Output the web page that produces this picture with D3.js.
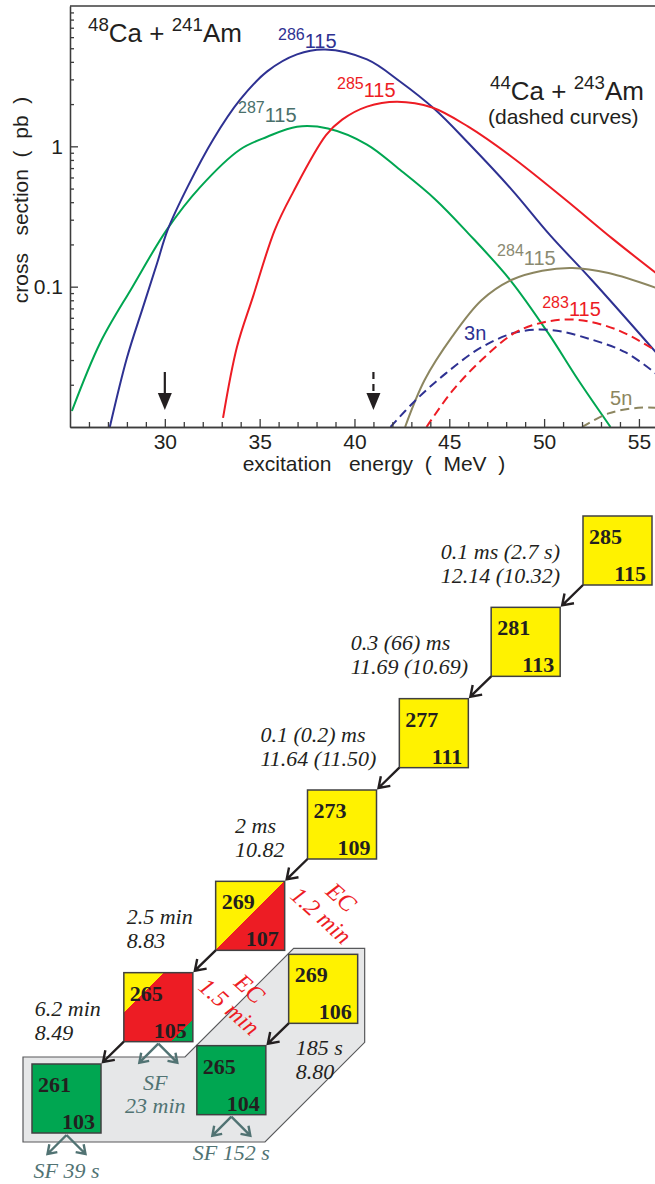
<!DOCTYPE html>
<html>
<head>
<meta charset="utf-8">
<script src="https://cdn.jsdelivr.net/npm/d3@7"></script>
<style>
  body { margin: 0; background: #fff; }
  svg text { white-space: pre; }
</style>
</head>
<body>
<div id="chart"></div>
<script>
// ---- excitation functions (energy in MeV, cross section in pb) ----
var xTicks = [30, 35, 40, 45, 50, 55];
var yTicks = [0.1, 1];

var e286 = [27.1, 28.0, 28.85, 29.6, 30.15, 31.2, 32.55, 33.97, 35.4, 36.97, 38.45, 40.66, 42.4, 44.25, 45.99, 48.3, 50.3, 52.5, 55.9];
var s286 = [0.01, 0.031, 0.0715, 0.148, 0.254, 0.514, 1.12, 2.15, 3.42, 4.52, 4.9, 4.16, 2.9, 1.83, 1.06, 0.49, 0.234, 0.112, 0.034];

var e287 = [25.1, 26.6, 28.3, 30.1, 31.85, 33.97, 35.4, 36.97, 38.6, 40.66, 42.4, 44.25, 46.0, 48.2, 50.2, 51.8, 53.5];
var s287 = [0.013, 0.04, 0.1, 0.254, 0.51, 0.95, 1.17, 1.38, 1.34, 1.03, 0.68, 0.42, 0.24, 0.112, 0.047, 0.0216, 0.01];

var e285 = [33.07, 33.8, 34.65, 35.8, 36.76, 38.5, 39.35, 40.66, 42.25, 44.1, 46.0, 48.3, 51.1, 53.6, 55.9];
var s285 = [0.0116, 0.037, 0.085, 0.254, 0.47, 1.2, 1.55, 1.92, 2.08, 1.89, 1.38, 0.84, 0.42, 0.22, 0.125];

var e284 = [42.67, 43.7, 45.15, 46.7, 48.3, 49.9, 51.5, 53.4, 55.9];
var s284 = [0.01, 0.0216, 0.044, 0.08, 0.112, 0.13, 0.136, 0.125, 0.098];

// 44Ca + 243Am (dashed)
var e3n = [41.9, 43.2, 44.8, 46.7, 48.6, 50.4, 52.5, 54.3, 55.9];
var s3n = [0.01, 0.0154, 0.024, 0.037, 0.0475, 0.049, 0.042, 0.034, 0.024];

var e283 = [43.8, 45.15, 46.7, 48.47, 50.05, 51.8, 53.9, 55.9];
var s283 = [0.01, 0.018, 0.03, 0.047, 0.056, 0.058, 0.049, 0.035];

var e5n = [52.0, 53.4, 54.96, 55.9];
var s5n = [0.01, 0.0125, 0.0137, 0.0137];

var beamArrows = [30, 41];

// ---- decay chain ----
var massNumbers = [285, 281, 277, 273, 269, 265, 261, 269, 265];
var protonNumbers = [115, 113, 111, 109, 107, 105, 103, 106, 104];
var alphaShare = [1, 1, 1, 1, 0.5, 0.29, 0, 1, 0];
var sfShare = [0, 0, 0, 0, 0, 0.16, 1, 0, 1];
var alphaHalfLives = ["0.1 ms (2.7 s)", "0.3 (66) ms", "0.1 (0.2) ms", "2 ms", "2.5 min", "6.2 min", "185 s"];
var alphaEnergies = ["12.14 (10.32)", "11.69 (10.69)", "11.64 (11.50)", "10.82", "8.83", "8.49", "8.80"];
var ecHalfLives = ["1.2 min", "1.5 min"];
var sfHalfLives = ["23 min", "39 s", "152 s"];

var W = 655, H = 1184;
var sans = "'Liberation Sans', Arial, sans-serif";
var serif = "'Liberation Serif', 'Times New Roman', serif";
var ink = "#231f20";

var svg = d3.select("#chart").append("svg")
    .attr("width", W)
    .attr("height", H);

// ================= top plot =================
var x = d3.scaleLinear().domain([25, 55.9]).range([70, 656]);
var y = d3.scaleLog().domain([0.01, 10]).range([427, 6]);

svg.append("clipPath").attr("id", "plotclip")
  .append("rect").attr("x", 70).attr("y", 6).attr("width", 586).attr("height", 421);

var series = [
  { e: e287, s: s287, color: "#00a651", dash: null },
  { e: e286, s: s286, color: "#2e3192", dash: null },
  { e: e285, s: s285, color: "#ed1c24", dash: null },
  { e: e284, s: s284, color: "#8c8660", dash: null },
  { e: e3n, s: s3n, color: "#2e3192", dash: "9,5" },
  { e: e283, s: s283, color: "#ed1c24", dash: "9,5" },
  { e: e5n, s: s5n, color: "#8c8660", dash: "9,5" }
];

var line = d3.line()
  .x(function (d) { return x(d[0]); })
  .y(function (d) { return y(d[1]); })
  .curve(d3.curveCatmullRom.alpha(0.5));

svg.append("g").attr("clip-path", "url(#plotclip)")
  .selectAll("path")
  .data(series)
  .enter()
  .append("path")
    .attr("d", function (d) { return line(d3.zip(d.e, d.s)); })
    .attr("fill", "none")
    .attr("stroke", function (d) { return d.color; })
    .attr("stroke-width", 2)
    .attr("stroke-dasharray", function (d) { return d.dash; });

// axes, ticks pointing inward
function styleAxis(g) {
  g.selectAll("path, line").attr("stroke", "#3c3c3c").attr("stroke-width", 1.3);
  g.selectAll("text").attr("fill", ink).style("font-family", sans).style("font-size", "21px");
}

var xMinor = d3.range(26, 56).filter(function (v) { return v % 5 !== 0; });
svg.append("g").attr("transform", "translate(0,427)")
  .call(d3.axisBottom(x).tickValues(xMinor).tickSize(-5).tickSizeOuter(0).tickFormat(""))
  .call(styleAxis);
svg.append("g").attr("transform", "translate(0,427)")
  .call(d3.axisBottom(x).tickValues(xTicks).tickSize(-8).tickSizeOuter(0).tickPadding(7).tickFormat(d3.format("d")))
  .call(styleAxis);

var yMinor = [];
[0.01, 0.1, 1].forEach(function (dec) {
  for (var k = 2; k <= 9; k++) yMinor.push(dec * k);
});
svg.append("g").attr("transform", "translate(70,0)")
  .call(d3.axisLeft(y).tickValues(yMinor).tickSize(-4).tickSizeOuter(0).tickFormat(""))
  .call(styleAxis);
svg.append("g").attr("transform", "translate(70,0)")
  .call(d3.axisLeft(y).tickValues(yTicks).tickSize(-8).tickSizeOuter(0).tickPadding(7).tickFormat(function (d) { return d; }))
  .call(styleAxis);

svg.append("line")
  .attr("x1", 70).attr("x2", 656).attr("y1", 6).attr("y2", 6)
  .attr("stroke", "#3c3c3c").attr("stroke-width", 1.3);

svg.append("text")
  .attr("x", 374).attr("y", 471)
  .attr("text-anchor", "middle")
  .style("font-family", sans).style("font-size", "21px").attr("fill", ink)
  .text("excitation   energy  (  MeV  )");

svg.append("text")
  .attr("transform", "translate(28,200) rotate(-90)")
  .attr("text-anchor", "middle")
  .style("font-family", sans).style("font-size", "21px").attr("fill", ink)
  .text("cross   section  (  pb  )");

// arrows marking beam energies
beamArrows.forEach(function (e, i) {
  var cx = x(e);
  svg.append("line")
    .attr("x1", cx).attr("x2", cx).attr("y1", 372).attr("y2", 396)
    .attr("stroke", ink).attr("stroke-width", 2.2)
    .attr("stroke-dasharray", i === 1 ? "7,5" : null);
  svg.append("path")
    .attr("d", "M" + (cx - 7) + ",393 L" + (cx + 7) + ",393 L" + cx + ",410 Z")
    .attr("fill", ink);
});

// superscripted labels
function isotopeText(g, px, py, parts, size, ratio, color) {
  var t = g.append("text").attr("x", px).attr("y", py)
    .style("font-family", sans).attr("fill", color);
  var up = false;
  parts.forEach(function (p, k) {
    var sup = k % 2 === 0;
    t.append("tspan")
      .attr("dy", sup ? (up ? 0 : -size * 0.42) : (up ? size * 0.42 : 0))
      .style("font-size", (sup ? size * ratio : size) + "px")
      .text(p);
    up = sup;
  });
  return t;
}

var curveLabels = [
  { e: 35.97, s: 4.99, parts: ["286", "115"], color: "#2e3192" },
  { e: 33.86, s: 1.5, parts: ["287", "115"], color: "#4a706b" },
  { e: 39.08, s: 2.23, parts: ["285", "115"], color: "#ed1c24" },
  { e: 47.52, s: 0.143, parts: ["284", "115"], color: "#8a8a72" },
  { e: 49.9, s: 0.0618, parts: ["283", "115"], color: "#ed1c24" }
];
curveLabels.forEach(function (d) {
  isotopeText(svg, x(d.e), y(d.s), d.parts, 20, 0.8, d.color);
});

svg.append("text").attr("x", x(45.78)).attr("y", y(0.0416))
  .style("font-family", sans).style("font-size", "20px").attr("fill", "#2e3192").text("3n");
svg.append("text").attr("x", x(53.48)).attr("y", y(0.0143))
  .style("font-family", sans).style("font-size", "20px").attr("fill", "#8c8660").text("5n");

isotopeText(svg, 88, 42, ["48", "Ca + ", "241", "Am"], 26, 0.72, ink);
isotopeText(svg, 490, 100, ["44", "Ca + ", "243", "Am"], 26, 0.72, ink);
svg.append("text").attr("x", 488).attr("y", 124)
  .style("font-family", sans).style("font-size", "21px").attr("fill", ink)
  .text("(dashed curves)");

// ================= decay chain =================
var S = 69;
var sx = d3.scaleLinear().domain([0, 6]).range([583, 32]);
var sy = d3.scaleLinear().domain([0, 6]).range([516, 1064]);
var sb = d3.scaleLinear().domain([0, 1]).range([0, 73]);

var nuclides = massNumbers.map(function (a, i) {
  var z = protonNumbers[i];
  var k = Math.floor((115 - z) / 2), b = (115 - z) % 2;
  return { A: a, Z: z, i: i, branch: b, x: sx(k) + sb(b), y: sy(k) + sb(b),
           alpha: alphaShare[i], sf: sfShare[i] };
});
function find(a, z) {
  return nuclides.filter(function (n) { return n.A === a && n.Z === z; })[0];
}

// grey background of the EC branch
var n261 = find(261, 103), n269b = find(269, 106);
var ax = n261.x - 9, ay = n261.y - 7, cx0 = n269b.x + 5, cy0 = n269b.y - 6;
var dx = n269b.x + S + 7, ey = n269b.y + S + 19, gy = n261.y + S + 9;
var region = [[ax, ay], [cx0 - (ay - cy0), ay], [cx0, cy0], [dx, cy0], [dx, ey], [dx - (gy - ey), gy], [ax, gy]];
svg.append("path")
  .attr("d", d3.line()(region) + "Z")
  .attr("fill", "#e6e7e8").attr("stroke", "#58595b").attr("stroke-width", 1.2);

var defs = svg.append("defs");
var colAlpha = "#fff200", colEC = "#ed1c24", colSF = "#00a651";

nuclides.forEach(function (n) {
  var fill;
  if (n.alpha === 1) fill = colAlpha;
  else if (n.sf === 1) fill = colSF;
  else {
    var gid = "split" + n.i;
    var gr = defs.append("linearGradient").attr("id", gid)
      .attr("x1", 0).attr("y1", 0).attr("x2", 1).attr("y2", 1);
    var stops = [[0, colAlpha], [n.alpha, colAlpha], [n.alpha, colEC], [1 - n.sf, colEC], [1 - n.sf, colSF], [1, colSF]];
    stops.forEach(function (s) {
      gr.append("stop").attr("offset", s[0]).attr("stop-color", s[1]);
    });
    fill = "url(#" + gid + ")";
  }
  var g = svg.append("g").attr("transform", "translate(" + n.x + "," + n.y + ")");
  g.append("rect").attr("width", S).attr("height", S)
    .attr("fill", fill).attr("stroke", "#404041").attr("stroke-width", 1.5);
  g.append("text").attr("x", 6).attr("y", 28)
    .style("font-family", serif).style("font-size", "22px").style("font-weight", "bold")
    .attr("fill", ink).text(n.A);
  g.append("text").attr("x", 63).attr("y", 65).attr("text-anchor", "end")
    .style("font-family", serif).style("font-size", "22px").style("font-weight", "bold")
    .attr("fill", ink).text(n.Z);
});

function arrow(x1, y1, x2, y2, len) {
  var a = Math.atan2(y2 - y1, x2 - x1), w = 0.6;
  var p1 = [x2 - len * Math.cos(a - w), y2 - len * Math.sin(a - w)];
  var p2 = [x2 - len * Math.cos(a + w), y2 - len * Math.sin(a + w)];
  return "M" + x1 + "," + y1 + "L" + x2 + "," + y2 +
         "M" + p1 + "L" + x2 + "," + y2 + "L" + p2;
}

// alpha decays
var ai = 0;
nuclides.forEach(function (n) {
  var d = find(n.A - 4, n.Z - 2);
  if (!d) return;
  svg.append("path")
    .attr("d", arrow(n.x, n.y + S, d.x + S + 2, d.y - 2, 12))
    .attr("fill", "none").attr("stroke", ink).attr("stroke-width", 2.4);
  var lab = svg.append("g")
    .style("font-family", serif).style("font-size", "22px").style("font-style", "italic")
    .attr("fill", ink);
  var t1 = lab.append("text").text(alphaHalfLives[ai]);
  var t2 = lab.append("text").text(alphaEnergies[ai]);
  var left, base;
  if (n.branch) {
    left = n.x + 7; base = n.y + 101;
  } else {
    var wmax = Math.max(t1.node().getComputedTextLength(), t2.node().getComputedTextLength());
    left = n.x - 23 - wmax; base = n.y + 43;
  }
  t1.attr("x", left).attr("y", base);
  t2.attr("x", left).attr("y", base + 24);
  ai++;
});

// electron capture
var ei = 0;
nuclides.forEach(function (n) {
  if (!find(n.A, n.Z - 1)) return;
  var g = svg.append("g")
    .attr("transform", "translate(" + (n.x + 100) + "," + (n.y + 40) + ") rotate(42)")
    .style("font-family", serif).style("font-size", "24px").style("font-style", "italic")
    .attr("fill", colEC).attr("text-anchor", "middle");
  g.append("text").attr("x", 3).attr("y", -27).text("EC");
  g.append("text").attr("x", 0).attr("y", 0).text(ecHalfLives[ei]);
  ei++;
});

// spontaneous fission
var si = 0, sfCol = "#517373";
nuclides.forEach(function (n) {
  if (!n.sf) return;
  var cx = n.x + S / 2, top = n.y + S + 2;
  svg.append("path").attr("d", arrow(cx, top, cx - 19, top + 19, 10))
    .attr("fill", "none").attr("stroke", sfCol).attr("stroke-width", 2.4);
  svg.append("path").attr("d", arrow(cx, top, cx + 19, top + 19, 10))
    .attr("fill", "none").attr("stroke", sfCol).attr("stroke-width", 2.4);
  var lab = svg.append("g")
    .style("font-family", serif).style("font-size", "22px").style("font-style", "italic")
    .attr("fill", sfCol).attr("text-anchor", "middle");
  if (n.sf < 1) {
    lab.append("text").attr("x", cx - 3).attr("y", n.y + S + 48).text("SF");
    lab.append("text").attr("x", cx - 3).attr("y", n.y + S + 71).text(sfHalfLives[si]);
  } else {
    lab.append("text").attr("x", cx).attr("y", n.y + S + 45).text("SF " + sfHalfLives[si]);
  }
  si++;
});
</script>
</body>
</html>
